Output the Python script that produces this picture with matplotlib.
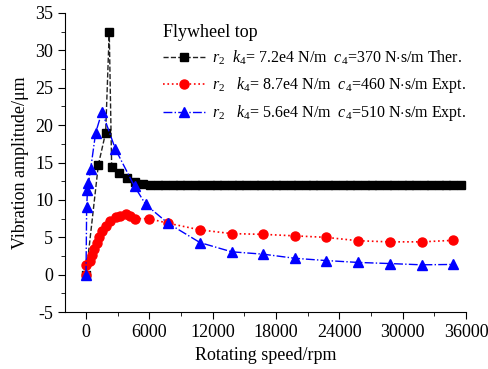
import numpy as np
import matplotlib.pyplot as plt
from matplotlib.ticker import MultipleLocator

plt.rcParams["font.family"] = "Liberation Serif"
plt.rcParams["mathtext.fontset"] = "custom"
plt.rcParams["mathtext.rm"] = "Liberation Serif"
plt.rcParams["mathtext.it"] = "Liberation Serif:italic"
plt.rcParams["axes.unicode_minus"] = False

# theoretical curve, k4=7.2e4, c4=370
ther_rpm = [0, 1170, 1860, 2200, 2430, 3150, 3850, 4640, 5400, 6100, 6800, 7500, 8200, 8900,
            9600, 10300, 11000, 11700, 12400, 13100, 13800, 14500, 15200, 15900, 16600, 17300,
            18000, 18700, 19400, 20100, 20800, 21500, 22200, 22900, 23600, 24300, 25000, 25700,
            26400, 27100, 27800, 28500, 29200, 29900, 30600, 31300, 32000, 32700, 33400, 34100,
            34800, 35500]
ther_amp = [0.0, 14.7, 19.0, 32.5, 14.4, 13.6, 13.0, 12.4, 12.1, 12.0, 12.0, 12.0, 12.0, 12.0,
            12.0, 12.0, 12.0, 12.0, 12.0, 12.0, 12.0, 12.0, 12.0, 12.0, 12.0, 12.0,
            12.0, 12.0, 12.0, 12.0, 12.0, 12.0, 12.0, 12.0, 12.0, 12.0, 12.0, 12.0,
            12.0, 12.0, 12.0, 12.0, 12.0, 12.0, 12.0, 12.0, 12.0, 12.0, 12.0, 12.0,
            12.0, 12.0]

# experiment, k4=8.7e4, c4=460
exp1_rpm = [0, 0, 380, 600, 800, 1010, 1230, 1490, 1850, 2300, 2800, 3250, 3750, 4150, 4600,
            5970, 7750, 10800, 13800, 16800, 19800, 22750, 25750, 28750, 31800, 34750]
exp1_amp = [0.0, 1.35, 1.9, 2.7, 3.4, 4.2, 5.0, 5.8, 6.5, 7.2, 7.7, 7.9, 8.1, 7.9, 7.5,
            7.5, 6.9, 6.0, 5.5, 5.4, 5.2, 5.0, 4.55, 4.4, 4.4, 4.6]

# experiment, k4=5.6e4, c4=510
exp2_rpm = [0, 60, 140, 220, 445, 915, 1520, 2780, 4600, 5650, 7750, 10800, 13800, 16800,
            19800, 22750, 25750, 28750, 31800, 34750]
exp2_amp = [0.0, 9.0, 11.3, 12.2, 14.2, 19.0, 21.8, 16.8, 11.8, 9.4, 6.9, 4.3, 3.07, 2.75,
            2.2, 1.9, 1.65, 1.5, 1.33, 1.38]

labels = [r"$r_2$  $k_4$= 7.2e4 N/m  $c_4$=370 N$\cdot$s/m Ther.",
          r"$r_2$   $k_4$= 8.7e4 N/m  $c_4$=460 N$\cdot$s/m Expt.",
          r"$r_2$   $k_4$= 5.6e4 N/m  $c_4$=510 N$\cdot$s/m Expt."]

fig = plt.figure(figsize=(4.88, 3.69), dpi=100)
ax = fig.add_axes([0.133, 0.154, 0.822, 0.811])

ax.plot(ther_rpm, ther_amp, ls="--", color="#222222", lw=1.0, marker="s", ms=5.5,
        mfc="black", mec="black", label=labels[0])
ax.plot(exp1_rpm, exp1_amp, ls=":", color="red", lw=1.2, marker="o", ms=6.5,
        mfc="red", mec="red", label=labels[1])
ax.plot(exp2_rpm, exp2_amp, ls="-.", color="blue", lw=1.0, marker="^", ms=6.5,
        mfc="blue", mec="blue", label=labels[2])

ax.set_xlim(-2000, 36000)
ax.set_ylim(-5, 35)
ax.xaxis.set_major_locator(MultipleLocator(6000))
ax.xaxis.set_minor_locator(MultipleLocator(3000))
ax.yaxis.set_major_locator(MultipleLocator(5))
ax.yaxis.set_minor_locator(MultipleLocator(2.5))
ax.spines["top"].set_visible(False)
ax.spines["right"].set_visible(False)
ax.tick_params(which="major", length=5, labelsize=13, direction="out")
ax.tick_params(which="minor", length=3, direction="out")

ax.set_xlabel("Rotating speed/rpm", fontsize=13)
ax.set_ylabel("Vibration amplitude/\u03bcm", fontsize=13)

leg = ax.legend(loc="upper left", bbox_to_anchor=(0.22, 0.995), frameon=False, fontsize=11.5,
                title="Flywheel top", title_fontsize=13, handlelength=2.7, handletextpad=0.4,
                labelspacing=0.5, borderaxespad=0.2)
leg._legend_box.align = "left"

fig.savefig("out.png")
